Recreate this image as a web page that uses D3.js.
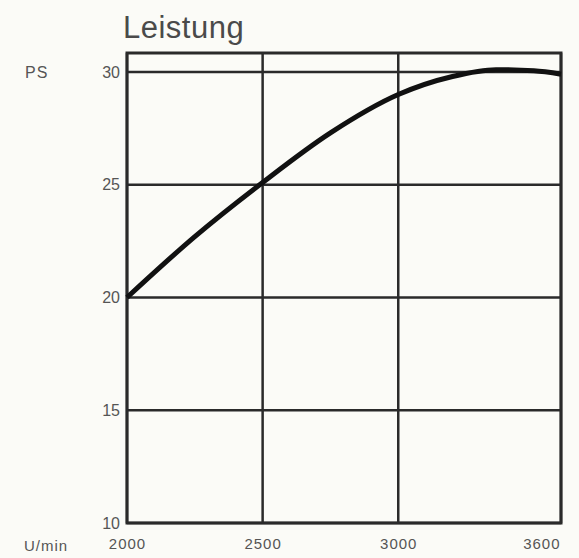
<!DOCTYPE html>
<html>
<head>
<meta charset="utf-8">
<script src="https://cdn.jsdelivr.net/npm/d3@7"></script>
<style>
  html, body { margin: 0; padding: 0; background: #fbfbf7; overflow: hidden; }
  svg { display: block; font-family: "Liberation Sans", Arial, sans-serif; }
</style>
</head>
<body>
<div id="chart"></div>
<script>
// engine speed (U/min) and power (PS)
const rpm = [2000, 2250, 2500, 2750, 3000, 3200, 3360, 3500, 3600];
const ps = [20.0, 22.7, 25.1, 27.3, 29.0, 29.8, 30.1, 30.05, 29.9];

const xTicks = [2000, 2500, 3000, 3600];
const yTicks = [10, 15, 20, 25, 30];

const width = 579;
const height = 558;
const margin = { top: 53, right: 18, bottom: 35, left: 127 };
const innerWidth = width - margin.left - margin.right;
const innerHeight = height - margin.top - margin.bottom;

const svg = d3.select('#chart')
  .append('svg')
  .attr('width', width)
  .attr('height', height);

const g = svg.append('g')
  .attr('transform', `translate(${margin.left},${margin.top})`);

const x = d3.scaleLinear()
  .domain([2000, 3600])
  .range([0, innerWidth]);

const y = d3.scaleLinear()
  .domain([10, 30.84])
  .range([innerHeight, 0]);

const ink = '#2a2a2a';
const labelColor = '#555';

// grid lines
g.selectAll('.hgrid')
  .data(yTicks)
  .enter()
  .append('line')
  .attr('x1', 0)
  .attr('x2', innerWidth)
  .attr('y1', d => y(d))
  .attr('y2', d => y(d))
  .attr('stroke', ink)
  .attr('stroke-width', 2.5);

g.selectAll('.vgrid')
  .data(xTicks)
  .enter()
  .append('line')
  .attr('x1', d => x(d))
  .attr('x2', d => x(d))
  .attr('y1', 0)
  .attr('y2', innerHeight)
  .attr('stroke', ink)
  .attr('stroke-width', 2.5);

// frame
g.append('rect')
  .attr('width', innerWidth)
  .attr('height', innerHeight)
  .attr('fill', 'none')
  .attr('stroke', ink)
  .attr('stroke-width', 3);

// axes: labels only
const yAxis = g.append('g')
  .call(d3.axisLeft(y).tickValues(yTicks).tickFormat(d3.format('d')).tickSize(0).tickPadding(7));
yAxis.select('.domain').remove();
yAxis.selectAll('text')
  .style('font-size', '16px')
  .style('font-family', '"Liberation Sans", Arial, sans-serif')
  .attr('fill', labelColor);

const xAxis = g.append('g')
  .attr('transform', `translate(0,${innerHeight})`)
  .call(d3.axisBottom(x).tickValues(xTicks).tickFormat(d3.format('d')).tickSize(0).tickPadding(15));
xAxis.select('.domain').remove();
xAxis.selectAll('text')
  .style('font-size', '15px')
  .style('font-family', '"Liberation Sans", Arial, sans-serif')
  .attr('fill', labelColor)
  .attr('letter-spacing', 1)
  .attr('text-anchor', d => d === 3600 ? 'end' : 'middle')
  .attr('dx', d => d === 3600 ? -1 : 0);

// power curve
const line = d3.line()
  .x((d, i) => x(rpm[i]))
  .y(d => y(d))
  .curve(d3.curveMonotoneX);

g.append('path')
  .datum(ps)
  .attr('d', line)
  .attr('fill', 'none')
  .attr('stroke', '#111')
  .attr('stroke-width', 5)
  .attr('stroke-linecap', 'butt');

// titles
svg.append('text')
  .attr('x', 123)
  .attr('y', 38)
  .style('font-size', '31px')
  .attr('letter-spacing', 0.5)
  .attr('fill', '#4a4a4a')
  .text('Leistung');

svg.append('text')
  .attr('x', 25)
  .attr('y', 78)
  .style('font-size', '16px')
  .attr('letter-spacing', 1)
  .attr('fill', labelColor)
  .text('PS');

svg.append('text')
  .attr('x', 24)
  .attr('y', 551)
  .style('font-size', '15px')
  .attr('letter-spacing', 1)
  .attr('fill', labelColor)
  .text('U/min');
</script>
</body>
</html>
